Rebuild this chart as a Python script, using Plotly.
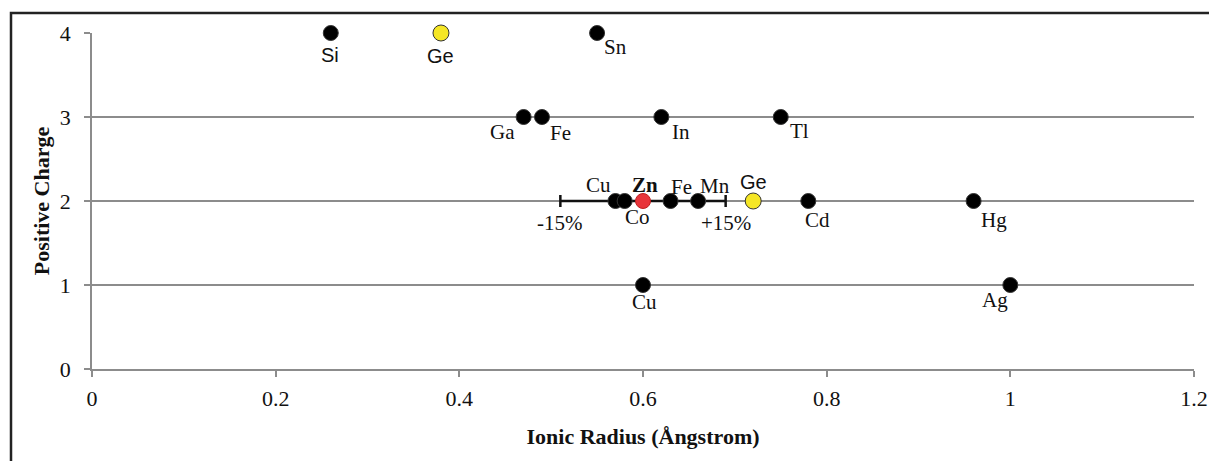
import plotly.graph_objects as go

# ------------------------------------------------------------------
# Data
# ------------------------------------------------------------------
black_names = ['Si', 'Sn', 'Ga', 'Fe', 'In', 'Tl', 'Cu', 'Co', 'Fe', 'Mn', 'Cd', 'Hg', 'Cu', 'Ag']
black_radius = [0.26, 0.55, 0.47, 0.49, 0.62, 0.75, 0.57, 0.58, 0.63, 0.66, 0.78, 0.96, 0.60, 1.00]
black_charge = [4, 4, 3, 3, 3, 3, 2, 2, 2, 2, 2, 2, 1, 1]

ge_names = ['Ge', 'Ge']
ge_radius = [0.38, 0.72]
ge_charge = [4, 2]

zn_name = 'Zn'
zn_radius = 0.60
zn_charge = 2
tolerance_pct = 15

x_ticks = [0, 0.2, 0.4, 0.6, 0.8, 1.0, 1.2]
x_tick_text = ['0', '0.2', '0.4', '0.6', '0.8', '1', '1.2']
y_ticks = [0, 1, 2, 3, 4]

# label placement per point: (xanchor, xshift, yshift) in px
black_lab = [('center', -1, -22), ('left', 5, -14), ('right', -7, -15), ('left', 6, -16),
             ('left', 9, -15), ('left', 7, -14), ('right', -2, 16), ('left', -2, -16),
             ('left', -2, 14), ('left', 0, 15), ('left', -5, -19), ('left', 5, -19),
             ('center', 1, -17), ('right', 0, -15)]
ge_lab = [('center', 0, -23), ('center', 0, 19)]

SERIF = 'Liberation Serif'
SANS = 'Liberation Sans'
INK = '#111'
GRID = '#8c8c8c'

fig = go.Figure()

# +/-15% window around Zn
fig.add_trace(go.Scatter(
    x=[zn_radius], y=[zn_charge], mode='markers',
    marker=dict(size=1, color='rgba(0,0,0,0)'),
    error_x=dict(type='percent', value=tolerance_pct, color=INK, thickness=2.5, width=6),
    showlegend=False, hoverinfo='skip',
))

fig.add_trace(go.Scatter(
    x=black_radius, y=black_charge, mode='markers', cliponaxis=False,
    marker=dict(size=15, color='#000', line=dict(color='#333', width=1)),
    showlegend=False,
))
fig.add_trace(go.Scatter(
    x=ge_radius, y=ge_charge, mode='markers', cliponaxis=False,
    marker=dict(size=16, color='#f5e625', line=dict(color='#333', width=1)),
    showlegend=False,
))
fig.add_trace(go.Scatter(
    x=[zn_radius], y=[zn_charge], mode='markers', cliponaxis=False,
    marker=dict(size=15, color='#e8343a', line=dict(color='#c02020', width=1)),
    showlegend=False,
))

# element labels
for name, x, y, (anc, dx, dy) in zip(black_names, black_radius, black_charge, black_lab):
    fam = SANS if name == 'Si' else SERIF
    fig.add_annotation(x=x, y=y, text=name, showarrow=False, xanchor=anc,
                       xshift=dx, yshift=dy, font=dict(family=fam, size=21 if fam == SERIF else 20, color=INK))
for name, x, y, (anc, dx, dy) in zip(ge_names, ge_radius, ge_charge, ge_lab):
    fig.add_annotation(x=x, y=y, text=name, showarrow=False, xanchor=anc,
                       xshift=dx, yshift=dy, font=dict(family=SANS, size=20, color=INK))
fig.add_annotation(x=zn_radius, y=zn_charge, text='<b>' + zn_name + '</b>', showarrow=False,
                   xshift=2, yshift=16, font=dict(family=SERIF, size=21, color=INK))

for sign, lab in [(-1, '-15%'), (1, '+15%')]:
    fig.add_annotation(
        x=zn_radius * (1 + sign * tolerance_pct / 100), y=zn_charge, text=lab,
        showarrow=False, yshift=-22, font=dict(family=SERIF, size=21, color=INK),
    )

# outer frame
fig.add_shape(type='rect', xref='paper', yref='paper',
              x0=-0.0735, x1=1.03, y0=-0.5, y1=1.0595,
              line=dict(color='#222', width=2.5), layer='above')

fig.update_xaxes(
    range=[0, 1.2], tickvals=x_ticks, ticktext=x_tick_text,
    showgrid=False, zeroline=False, showline=True, linecolor=GRID, linewidth=2,
    ticks='outside', ticklen=6, tickcolor=GRID, tickwidth=1.5, ticklabelstandoff=3,
    tickfont=dict(family=SERIF, size=22, color=INK), automargin=False,
    title=dict(text='<b>Ionic Radius (Ångstrom)</b>', font=dict(family=SERIF, size=22, color=INK),
               standoff=18),
)
fig.update_yaxes(
    range=[0, 4], tickvals=y_ticks,
    showgrid=True, gridcolor=GRID, gridwidth=2,
    zeroline=False, showline=True, linecolor=GRID, linewidth=1.5,
    ticks='outside', ticklen=6, tickcolor=GRID, tickwidth=1.5, ticklabelstandoff=9,
    tickfont=dict(family=SERIF, size=22, color=INK), automargin=False,
    title=dict(text='<b>Positive Charge</b>', font=dict(family=SERIF, size=22, color=INK),
               standoff=4),
)

fig.update_layout(
    width=1209, height=461,
    margin=dict(l=92, r=15, t=33, b=92),
    plot_bgcolor='white', paper_bgcolor='white',
)

fig.write_html('out.html', config={'displayModeBar': False},
               post_script="document.body.style.margin='0';")
